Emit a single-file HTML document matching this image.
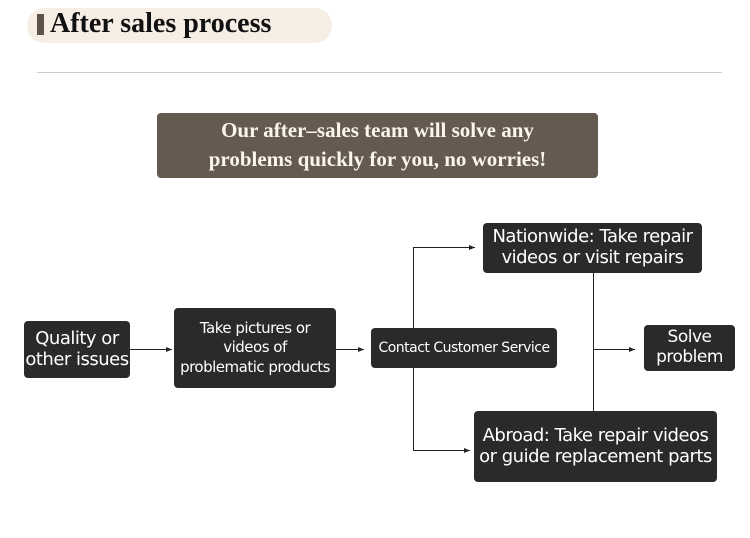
<!DOCTYPE html>
<html><head><style>
body{margin:0;width:750px;height:538px;background:#fff;position:relative;overflow:hidden;font-family:"DejaVu Sans","Liberation Sans",sans-serif}
.b{position:absolute;background:#2b2a29;color:#fff;border-radius:4px;display:flex;align-items:center;justify-content:center;text-align:center;line-height:1.15;letter-spacing:-0.5px}
.s{font-family:"Liberation Serif",serif;font-weight:bold}
</style></head><body>
<div style="position:absolute;left:27px;top:8px;width:305px;height:35px;background:#f6ede4;border-radius:18px"></div>
<div style="position:absolute;left:37px;top:14px;width:7px;height:21px;background:#5e5249"></div>
<div class="s" style="position:absolute;left:50px;top:6px;font-size:28px;color:#111;line-height:36px">After sales process</div>
<div style="position:absolute;left:37px;top:72px;width:685px;height:1px;background:#ccc"></div>
<div class="s" style="position:absolute;left:157px;top:113px;width:441px;height:65px;background:#655a50;border-radius:4px;color:#fbf5ec;font-size:21px;line-height:29px;text-align:center;padding-top:3px;box-sizing:border-box">Our after–sales team will solve any<br>problems quickly for you, no worries!</div>
<div class="b" style="left:24px;top:321px;width:106px;height:57px;font-size:18px">Quality or<br>other issues</div>
<div class="b" style="left:174px;top:308px;width:162px;height:80px;font-size:15px;line-height:1.3">Take pictures or<br>videos of<br>problematic products</div>
<div class="b" style="left:371px;top:328px;width:186px;height:40px;font-size:14px">Contact Customer Service</div>
<div class="b" style="left:483px;top:223px;width:219px;height:50px;font-size:18px">Nationwide: Take repair<br>videos or visit repairs</div>
<div class="b" style="left:474px;top:411px;width:243px;height:71px;font-size:18px">Abroad: Take repair videos<br>or guide replacement parts</div>
<div class="b" style="left:644px;top:325px;width:91px;height:46px;font-size:17px">Solve<br>problem</div>
<svg width="750" height="538" style="position:absolute;left:0;top:0">
<defs><marker id="a" markerWidth="6" markerHeight="6" refX="6" refY="3" orient="auto"><path d="M0,0.5 L6,3 L0,5.5z" fill="#222"/></marker></defs>
<g stroke="#222" stroke-width="1" fill="none">
<line x1="130" y1="349.5" x2="172" y2="349.5" marker-end="url(#a)"/>
<line x1="336" y1="349.5" x2="364" y2="349.5" marker-end="url(#a)"/>
<polyline points="413.5,328 413.5,247.5 475,247.5" marker-end="url(#a)"/>
<polyline points="413.5,368 413.5,450.5 470,450.5" marker-end="url(#a)"/>
<line x1="593.5" y1="273" x2="593.5" y2="411"/>
<line x1="593.5" y1="349.5" x2="635" y2="349.5" marker-end="url(#a)"/>
</g></svg>
</body></html>
